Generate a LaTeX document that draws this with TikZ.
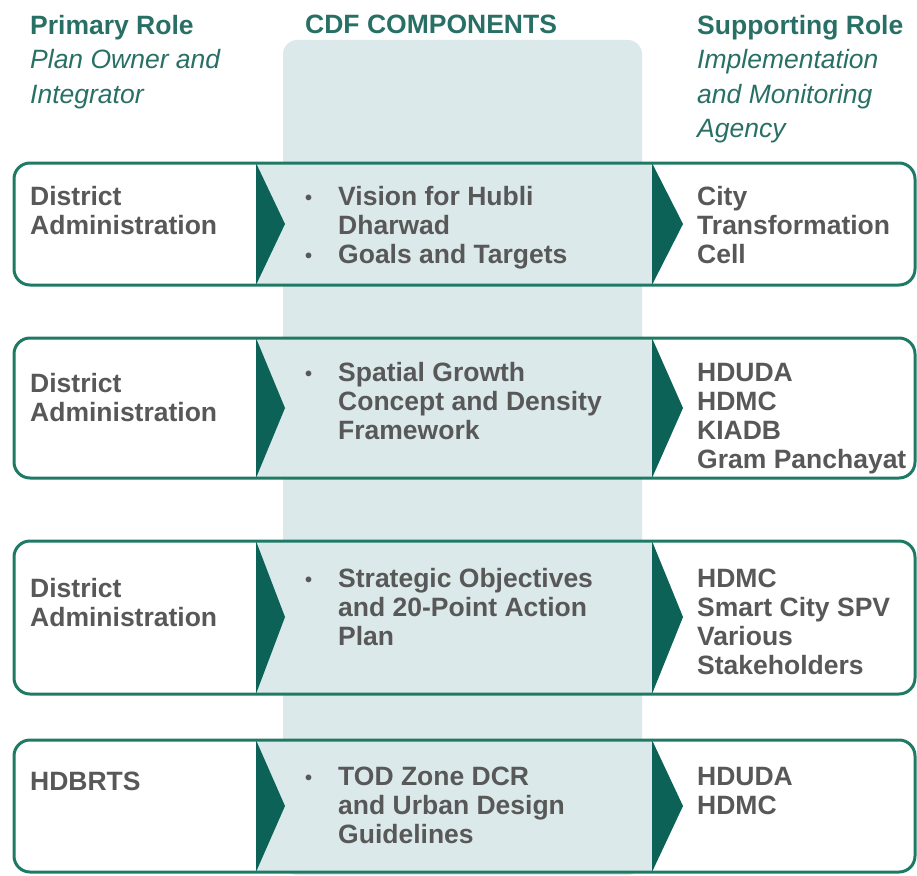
\documentclass[tikz,border=0pt]{standalone}
\usepackage{fontspec}
\setmainfont{Liberation Sans}
\definecolor{cdfteal}{RGB}{40,112,102}
\definecolor{cdfgreen}{RGB}{30,122,100}
\definecolor{cdfarrow}{RGB}{12,98,86}
\definecolor{cdfshade}{RGB}{219,233,234}
\definecolor{cdfgray}{RGB}{88,88,88}
\usetikzlibrary{positioning}
\newcommand{\bul}{\makebox[33pt][l]{\raisebox{1pt}{\fontsize{20}{20}\selectfont\textbullet}}}

\begin{document}
\begin{tikzpicture}[x=1pt,y=-1pt,
  headtxt/.style={anchor=base west,inner sep=0pt,align=left,text=cdfteal,
    font=\fontsize{26.5}{34.5}\selectfont},
  rowtxt/.style={anchor=base west,inner sep=0pt,align=left,text=cdfgray,
    font=\fontsize{26.5}{29}\selectfont\bfseries},
  rowborder/.style={draw=cdfgreen,line width=3pt,rounded corners=16pt}]
  \useasboundingbox (0,0) rectangle (917,875);

  % Middle column
  \fill[cdfshade,rounded corners=14pt] (283,40) rectangle (642,875);

  % Headers (base = last line)
  \node[headtxt] (primary) at (30,103) {\textbf{Primary Role}\\\textit{Plan Owner and}\\\textit{Integrator}};
  \node[headtxt,font=\fontsize{26.5}{34.5}\selectfont\bfseries] (cdf) at (305,34) {CDF COMPONENTS};
  \node[headtxt] (support) at (697,137.5) {\textbf{Supporting Role}\\\textit{Implementation}\\\textit{and Monitoring}\\\textit{Agency}};

  % Row 1
  \fill[white,rounded corners=16pt] (14,163) rectangle (915,285);
  \fill[cdfshade] (256,163) rectangle (652,285);
  \fill[cdfarrow] (256,163) -- (285,224) -- (256,285) -- cycle;
  \fill[cdfarrow] (652,163) -- (683,224) -- (652,285) -- cycle;
  \draw[rowborder] (14,163) rectangle (915,285);
  \node[rowtxt] (own1) at (30,234) {District\\Administration};
  \node[rowtxt] (comp1) at (305,263) {\bul Vision for Hubli\\\hphantom{\bul}Dharwad\\\bul Goals and Targets};
  \node[rowtxt] (sup1) at (697,263) {City\\Transformation\\Cell};

  % Row 2
  \fill[white,rounded corners=16pt] (14,338) rectangle (915,478);
  \fill[cdfshade] (256,338) rectangle (652,478);
  \fill[cdfarrow] (256,338) -- (285,408) -- (256,478) -- cycle;
  \fill[cdfarrow] (652,338) -- (683,408) -- (652,478) -- cycle;
  \draw[rowborder] (14,338) rectangle (915,478);
  \node[rowtxt] (own2) at (30,421) {District\\Administration};
  \node[rowtxt] (comp2) at (305,439) {\bul Spatial Growth\\\hphantom{\bul}Concept and Density\\\hphantom{\bul}Framework};
  \node[rowtxt] (sup2) at (697,468) {HDUDA\\HDMC\\KIADB\\Gram Panchayat};

  % Row 3
  \fill[white,rounded corners=16pt] (14,541) rectangle (915,694);
  \fill[cdfshade] (256,541) rectangle (652,694);
  \fill[cdfarrow] (256,541) -- (285,617) -- (256,694) -- cycle;
  \fill[cdfarrow] (652,541) -- (683,617) -- (652,694) -- cycle;
  \draw[rowborder] (14,541) rectangle (915,694);
  \node[rowtxt] (own3) at (30,626) {District\\Administration};
  \node[rowtxt] (comp3) at (305,645) {\bul Strategic Objectives\\\hphantom{\bul}and 20-Point Action\\\hphantom{\bul}Plan};
  \node[rowtxt] (sup3) at (697,674) {HDMC\\Smart City SPV\\Various\\Stakeholders};

  % Row 4
  \fill[white,rounded corners=16pt] (14,740) rectangle (915,872);
  \fill[cdfshade] (256,740) rectangle (652,872);
  \fill[cdfarrow] (256,740) -- (285,806) -- (256,872) -- cycle;
  \fill[cdfarrow] (652,740) -- (683,806) -- (652,872) -- cycle;
  \draw[rowborder] (14,740) rectangle (915,872);
  \node[rowtxt] (own4) at (30,790) {HDBRTS};
  \node[rowtxt] (comp4) at (305,843) {\bul TOD Zone DCR\\\hphantom{\bul}and Urban Design\\\hphantom{\bul}Guidelines};
  \node[rowtxt] (sup4) at (697,814) {HDUDA\\HDMC};
\end{tikzpicture}
\end{document}
